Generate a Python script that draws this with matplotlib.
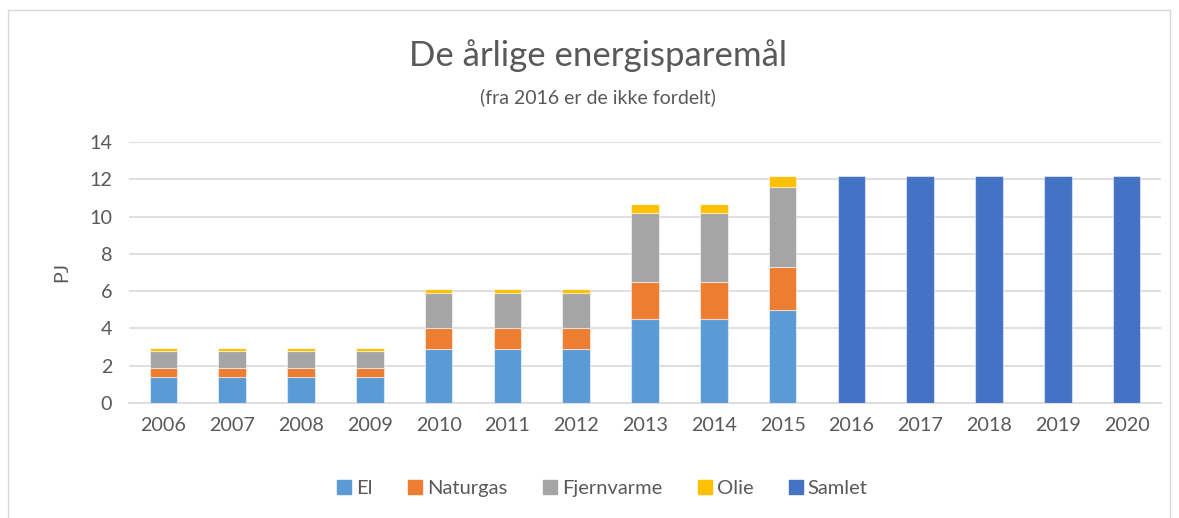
import matplotlib
matplotlib.use("Agg")
import matplotlib.pyplot as plt
import numpy as np
from matplotlib.patches import Rectangle
from matplotlib.lines import Line2D

years = ["2006", "2007", "2008", "2009", "2010", "2011", "2012", "2013",
         "2014", "2015", "2016", "2017", "2018", "2019", "2020"]
el = [1.4, 1.4, 1.4, 1.4, 2.9, 2.9, 2.9, 4.5, 4.5, 5.0, 0, 0, 0, 0, 0]
naturgas = [0.5, 0.5, 0.5, 0.5, 1.1, 1.1, 1.1, 2.0, 2.0, 2.3, 0, 0, 0, 0, 0]
fjernvarme = [0.9, 0.9, 0.9, 0.9, 1.9, 1.9, 1.9, 3.7, 3.7, 4.3, 0, 0, 0, 0, 0]
olie = [0.15, 0.15, 0.15, 0.15, 0.2, 0.2, 0.2, 0.5, 0.5, 0.6, 0, 0, 0, 0, 0]
samlet = [0, 0, 0, 0, 0, 0, 0, 0, 0, 0, 12.2, 12.2, 12.2, 12.2, 12.2]

series = [("El", el, "#5B9BD5"), ("Naturgas", naturgas, "#ED7D31"),
          ("Fjernvarme", fjernvarme, "#A5A5A5"), ("Olie", olie, "#FFC000"),
          ("Samlet", samlet, "#4472C4")]

plt.rcParams['font.family'] = ['Lato', 'DejaVu Sans']
W, H = 1179, 518
fig = plt.figure(figsize=(W / 100, H / 100), dpi=100)

# chart border
fig.patches.append(Rectangle((8 / W, -0.05), (1170 - 8) / W, 1 - 10 / H + 0.05,
                             transform=fig.transFigure, fill=False,
                             edgecolor="#d9d9d9", linewidth=1.0))

ax = fig.add_axes([129 / W, 1 - 403 / H, (1161 - 129) / W, (403 - 142) / H])
x = np.arange(len(years))
bottom = np.zeros(len(years))
handles = []
for name, vals, col in series:
    v = np.array(vals, dtype=float)
    ax.bar(x, v, 0.4, bottom=bottom, color=col, edgecolor=(1, 1, 1, 0.5),
           linewidth=0.8, zorder=3)
    bottom += v
    handles.append(Line2D([], [], marker="s", linestyle="none", markersize=10,
                          markerfacecolor=col, markeredgecolor=col, label=name))

ax.set_xlim(-0.5, len(years) - 0.5)
ax.set_ylim(0, 14)
ax.set_yticks(range(0, 15, 2))
ax.set_xticks(x)
ax.set_xticklabels(years)
ax.yaxis.grid(True, color="#d9d9d9", linewidth=1.2, zorder=0)
ax.set_axisbelow(True)
for s in ["top", "right", "left"]:
    ax.spines[s].set_visible(False)
ax.spines["bottom"].set_color("#d9d9d9")
ax.spines["bottom"].set_linewidth(1.2)
ax.tick_params(axis="both", length=0, labelsize=14.2, labelcolor="#595959")
ax.tick_params(axis="x", pad=10)
ax.tick_params(axis="y", pad=12)
ax.set_ylabel("PJ", fontsize=14.2, color="#595959", labelpad=14)

fig.text(598 / W, 1 - 56 / H, "De årlige energisparemål", ha="center", va="center",
         fontsize=25, color="#595959")
fig.text(598 / W, 1 - 97 / H, "(fra 2016 er de ikke fordelt)", ha="center", va="center",
         fontsize=14, color="#595959")

fig.legend(handles=handles, loc="center", bbox_to_anchor=(601 / W, 1 - 488 / H),
           ncol=5, frameon=False, fontsize=14.5, handletextpad=0.1,
           handlelength=1.0, columnspacing=1.6, labelcolor="#595959")

fig.savefig("out.png", dpi=100)
